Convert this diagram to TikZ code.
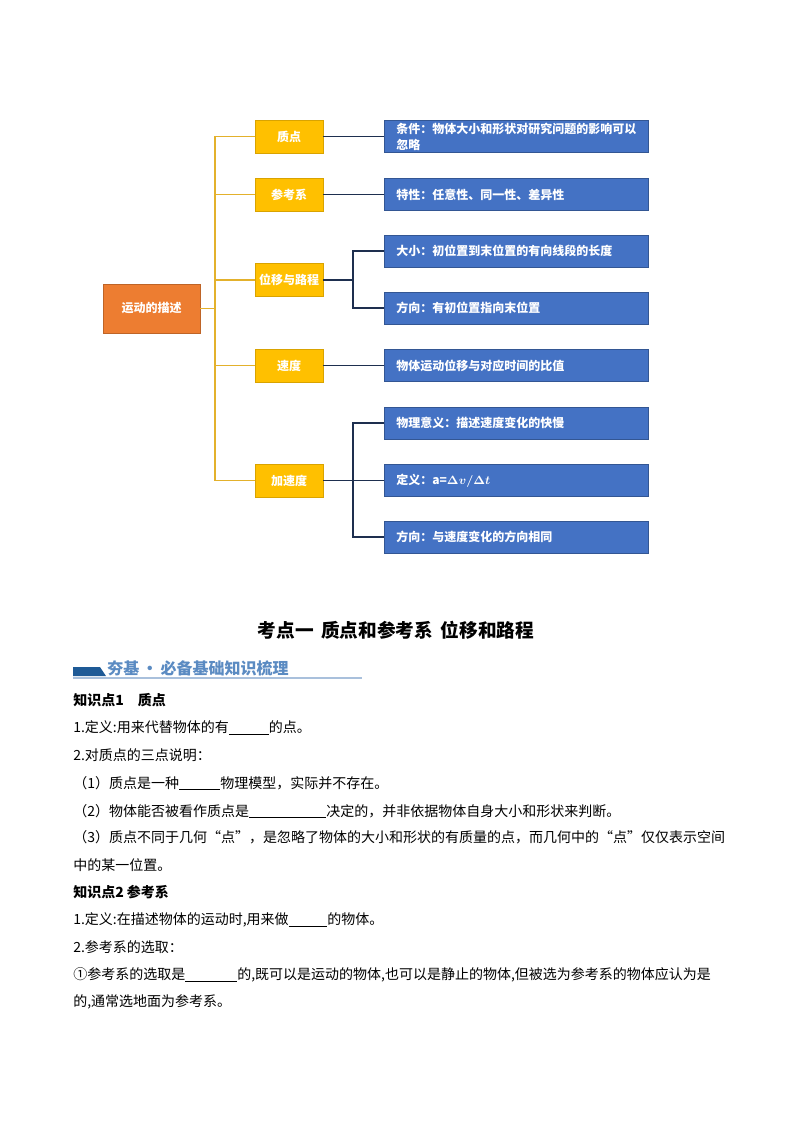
\documentclass[tikz,border=0pt]{standalone}
\usepackage{fontspec}
\setmainfont{Noto Sans CJK SC}
\usepackage{amsmath,bm}
\usepackage{tikz}
\definecolor{rootFill}{HTML}{ED7D31}
\definecolor{topicFill}{HTML}{FFC000}
\definecolor{infoFill}{HTML}{4472C4}
\definecolor{gold}{HTML}{E3B12C}
\definecolor{navy}{HTML}{1E2F4F}
\definecolor{bar}{HTML}{1E5A96}
\definecolor{barText}{HTML}{5B8BC2}
\definecolor{barLine}{HTML}{A9C0DC}
\tikzset{
  boxText/.style={text=white, font=\bfseries\fontsize{9}{12}\selectfont},
  rootBox/.style={boxText, fill=rootFill, draw=rootFill!80!black, line width=0.6pt, minimum width=72.75pt, minimum height=36.75pt, inner sep=0pt},
  topicBox/.style={boxText, fill=topicFill, draw=topicFill!85!black, line width=0.6pt, minimum width=51pt, minimum height=24.75pt, inner sep=0pt},
  infoBox/.style={boxText, fill=infoFill, draw=infoFill!75!black, line width=0.6pt, text width=180pt, inner xsep=9pt, inner ysep=0pt, minimum height=24pt, align=left, anchor=west},
  goldLine/.style={draw=gold, line width=0.9pt},
  navyLine/.style={draw=navy, line width=0.9pt},
  bodyText/.style={anchor=west, inner sep=0pt, font=\fontsize{10.5}{12}\selectfont},
  headText/.style={anchor=west, inner sep=0pt, font=\bfseries\fontsize{10.5}{12}\selectfont}
}
\newcommand{\gapline}[1]{\rule[-1.5pt]{#1}{0.5pt}}

\begin{document}
\begin{tikzpicture}[x=0.75pt,y=-0.75pt]
\useasboundingbox (0,0) rectangle (794,1123);

% mind map
\node[rootBox] (root) at (151.5,308.5) {运动的描述};
\node[topicBox] (zhidian) at (289,136.5) {质点};
\node[topicBox] (cankao) at (289,194.5) {参考系};
\node[topicBox] (weiyi) at (289,280) {位移与路程};
\node[topicBox] (sudu) at (289,365.5) {速度};
\node[topicBox] (jiasudu) at (289,480.5) {加速度};

\node[infoBox] (tiaojian) at (384,136.5) {条件：物体大小和形状对研究问题的影响可以\\忽略};
\node[infoBox] (texing) at (384,194.5) {特性：任意性、同一性、差异性};
\node[infoBox] (daxiao) at (384,251) {大小：初位置到末位置的有向线段的长度};
\node[infoBox] (fangxiang) at (384,308) {方向：有初位置指向末位置};
\node[infoBox] (bizhi) at (384,365.5) {物体运动位移与对应时间的比值};
\node[infoBox] (yiyi) at (384,423) {物理意义：描述速度变化的快慢};
\node[infoBox] (dingyi) at (384,480.5) {定义：a=$\bm{\Delta v/\Delta t}$};
\node[infoBox] (fangxiangB) at (384,537) {方向：与速度变化的方向相同};

\coordinate (spine) at (215,308.5);
\draw[goldLine] (root.east) -- (spine) |- (zhidian.west);
\draw[goldLine] (spine) |- (cankao.west);
\draw[goldLine] (spine) |- (weiyi.west);
\draw[goldLine] (spine) |- (sudu.west);
\draw[goldLine] (spine) |- (jiasudu.west);

\draw[navyLine] (zhidian.east) -- (tiaojian.west);
\draw[navyLine] (cankao.east) -- (texing.west);
\draw[navyLine] (sudu.east) -- (bizhi.west);
\coordinate (forkA) at (353,280);
\draw[navyLine] (weiyi.east) -- (forkA) |- (daxiao.west);
\draw[navyLine] (forkA) |- (fangxiang.west);
\coordinate (forkB) at (353,480.5);
\draw[navyLine] (jiasudu.east) -- (forkB) |- (yiyi.west);
\draw[navyLine] (forkB) -- (dingyi.west);
\draw[navyLine] (forkB) |- (fangxiangB.west);

% title and banner
\node[font=\bfseries\fontsize{14}{16}\selectfont] (title) at (396,630) {考点一\hspace{0.4em}质点和参考系\hspace{0.4em}位移和路程};
\fill[bar] (73,667) -- (100,667) -- (106,676) -- (73,676) -- cycle;
\draw[barLine, line width=0.8pt] (73,678) -- (362,678);
\node[anchor=west, inner sep=0pt, text=barText, font=\bfseries\fontsize{12}{14}\selectfont] (banner) at (107,668) {夯基\,·\,必备基础知识梳理};

% text
\node[headText] (kpA) at (73,700) {知识点1\quad 质点};
\node[bodyText] (lineA) at (73,728) {1.定义:用来代替物体的有\gapline{30pt}的点。};
\node[bodyText] (lineB) at (73,755) {2.对质点的三点说明：};
\node[bodyText] (lineC) at (73,783) {（1）质点是一种\gapline{31pt}物理模型，实际并不存在。};
\node[bodyText] (lineD) at (73,811) {（2）物体能否被看作质点是\gapline{58pt}决定的，并非依据物体自身大小和形状来判断。};
\node[bodyText] (lineE) at (73,837) {（3）质点不同于几何“点”，是忽略了物体的大小和形状的有质量的点，而几何中的“点”仅仅表示空间};
\node[bodyText] (lineF) at (73,865) {中的某一位置。};
\node[headText] (kpB) at (73,892) {知识点2\ 参考系};
\node[bodyText] (lineG) at (73,920) {1.定义:在描述物体的运动时,用来做\gapline{29pt}的物体。};
\node[bodyText] (lineH) at (73,947) {2.参考系的选取：};
\node[bodyText] (lineI) at (73,975) {①参考系的选取是\gapline{39pt}的,既可以是运动的物体,也可以是静止的物体,但被选为参考系的物体应认为是};
\node[bodyText] (lineJ) at (73,1002) {的,通常选地面为参考系。};
\end{tikzpicture}
\end{document}
